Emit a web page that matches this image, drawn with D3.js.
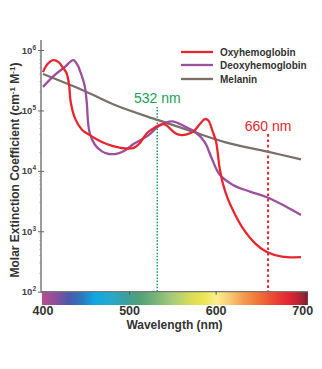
<!DOCTYPE html>
<html>
<head>
<meta charset="utf-8">
<script src="https://cdn.jsdelivr.net/npm/d3@7"></script>
<style>
  body { margin: 0; background: #fff; }
  svg text { font-family: "Liberation Sans", Arial, sans-serif; }
</style>
</head>
<body>
<svg class="chart"></svg>
<script>
// spectra (wavelength nm, molar extinction cm-1 M-1)
var oxyNm  = [400,405,412,418,423,427,430,432,437,445,454,468,480,495,505,512,520,527,533,537,542,548,554,560,566,574,581,587,591,596,600,604,608,614,621,630,645,658,676,698];
var oxyVal = [4.3e5,5.8e5,6.8e5,6.3e5,5.1e5,4.2e5,2.75e5,1.38e5,7.4e4,4.8e4,3.9e4,3.0e4,2.6e4,2.35e4,2.4e4,2.9e4,4.2e4,5.0e4,5.6e4,5.9e4,5.75e4,4.8e4,4.1e4,3.9e4,4.0e4,4.5e4,5.9e4,7.2e4,6.8e4,4.5e4,3.0e4,1.12e4,6.0e3,3.3e3,2.0e3,1170,630,457,380,372];

var deoxyNm  = [400,414,425,435,440,443,448,450.5,452,454,460,468,476,487,495,505,522,533,549,564,576,587,595,604,620,640,658,680,698];
var deoxyVal = [2.45e5,3.9e5,5.2e5,6.8e5,5.6e5,4.4e5,2.6e5,1.38e5,6.5e4,4.2e4,2.7e4,2.1e4,1.9e4,1.95e4,2.2e4,2.8e4,3.9e4,5.4e4,6.6e4,5.4e4,4.4e4,2.95e4,1.6e4,8.7e3,5.8e3,4.5e3,3.7e3,2.6e3,1.86e3];

var melNm  = [400,448,483,533,572,610,658,698];
var melVal = [4.0e5,2.1e5,1.23e5,6.9e4,4.5e4,3.0e4,2.1e4,1.55e4];

var seriesNames  = ['Oxyhemoglobin', 'Deoxyhemoglobin', 'Melanin'];
var seriesColors = ['#e8262d', '#9b4f9e', '#7b6f69'];

var xTicks = [400, 500, 600, 700];
var yTicks = [1e2, 1e3, 1e4, 1e5, 1e6];

// colour bar under the axis
var spectrumNm  = [400,415,430,445,460,480,495,510,530,550,570,585,600,615,630,650,670,685,700,706];
var spectrumCol = ['#b5508e','#8a4f9c','#4a5aa8','#2a78c0','#10a8e2','#2aa8c8','#3aa0a0','#4fa07a','#78b478','#a8cc7a','#d8dc58','#ece452','#faf08c','#f9cc78','#f5a050','#ef7038','#ea4032','#e12433','#a02432','#6e2030'];

var markers = [
  {nm: 532, label: '532 nm', color: '#1a9e5a', top: 107, ly: 103, dash: '1.5,1.6', w: 1.5},
  {nm: 660, label: '660 nm', color: '#e8262d', top: 134, ly: 131, dash: '2.7,2.7', w: 2}
];

var W = 322, H = 369;

var svg = d3.select('.chart')
  .attr('width', W)
  .attr('height', H);

var x = d3.scaleLinear().domain([400, 700]).range([43, 302.7]),
    y = d3.scaleLog().domain([1e2, 1e6]).range([291.7, 50]);

var axisX = 41;

// colour bar gradient
var grad = svg.append('defs').append('linearGradient')
  .attr('id', 'spec')
  .attr('gradientUnits', 'userSpaceOnUse')
  .attr('x1', x(400)).attr('x2', x(706))
  .attr('y1', 0).attr('y2', 0);
spectrumNm.forEach(function(nm, i) {
  grad.append('stop')
    .attr('offset', (nm - 400) / 306)
    .attr('stop-color', spectrumCol[i]);
});

svg.append('rect')
  .attr('x', x(400) - 1)
  .attr('y', y(1e2))
  .attr('width', x(706) - x(400) + 1)
  .attr('height', 13.3)
  .attr('fill', 'url(#spec)');

// x axis line on top of the bar
svg.append('line')
  .attr('x1', axisX).attr('x2', x(706))
  .attr('y1', y(1e2)).attr('y2', y(1e2))
  .attr('stroke', '#777').attr('stroke-width', 1.3);

// small ticks into the bar
svg.selectAll('.xtick')
  .data(xTicks.slice(1))
  .enter().append('line')
  .attr('x1', function(d) { return x(d); })
  .attr('x2', function(d) { return x(d); })
  .attr('y1', y(1e2)).attr('y2', y(1e2) + 3)
  .attr('stroke', '#555').attr('stroke-width', 1);

svg.selectAll('.xlab')
  .data(xTicks)
  .enter().append('text')
  .attr('x', function(d) { return x(d); })
  .attr('y', 314.5)
  .attr('text-anchor', 'middle')
  .attr('font-size', 12.5)
  .attr('font-weight', 'bold')
  .attr('fill', '#333')
  .text(function(d) { return d; });

svg.append('text')
  .attr('x', 174.5)
  .attr('y', 328.5)
  .attr('text-anchor', 'middle')
  .attr('font-size', 12)
  .attr('font-weight', 'bold')
  .attr('fill', '#333')
  .text('Wavelength (nm)');

// y axis
var yAxis = d3.axisLeft(y).tickValues(yTicks).tickSize(3).tickPadding(2);
var gy = svg.append('g')
  .attr('transform', 'translate(' + axisX + ',0)')
  .call(yAxis);
gy.select('.domain').remove();
gy.selectAll('.tick line').attr('stroke', '#666').attr('x2', -3).attr('x1', 3);
gy.selectAll('.tick text').each(function(d) {
  var t = d3.select(this).text(null)
    .attr('font-size', 9.5)
    .attr('font-weight', 'bold')
    .attr('fill', '#444')
    .attr('font-family', '"Liberation Sans", Arial, sans-serif');
  t.append('tspan').text('10');
  t.append('tspan').attr('dy', -4).attr('font-size', 6.5).text(Math.round(Math.log10(d)));
});

svg.append('line')
  .attr('x1', axisX).attr('x2', axisX)
  .attr('y1', 40).attr('y2', y(1e2))
  .attr('stroke', '#666').attr('stroke-width', 1.3);

// minor log ticks
var minor = y.ticks().filter(function(d) { return yTicks.indexOf(d) < 0; });
svg.selectAll('.minor')
  .data(minor)
  .enter().append('line')
  .attr('x1', axisX - 1.5).attr('x2', axisX)
  .attr('y1', function(d) { return y(d); })
  .attr('y2', function(d) { return y(d); })
  .attr('stroke', '#888').attr('stroke-width', 0.8);

// y title
var yt = svg.append('text')
  .attr('transform', 'translate(19,170) rotate(-90)')
  .attr('text-anchor', 'middle')
  .attr('font-size', 12)
  .attr('font-weight', 'bold')
  .attr('fill', '#333');
yt.append('tspan').text('Molar Extinction Coefficient (cm');
yt.append('tspan').attr('dy', -4).attr('font-size', 8).text('-1');
yt.append('tspan').attr('dy', 4).text(' M');
yt.append('tspan').attr('dy', -4).attr('font-size', 8).text('-1');
yt.append('tspan').attr('dy', 4).text(')');

// marker lines
markers.forEach(function(m) {
  svg.append('line')
    .attr('x1', x(m.nm)).attr('x2', x(m.nm))
    .attr('y1', m.top).attr('y2', y(1e2))
    .attr('stroke', m.color)
    .attr('stroke-width', m.w)
    .attr('stroke-dasharray', m.dash);
  svg.append('text')
    .attr('x', x(m.nm))
    .attr('y', m.ly)
    .attr('text-anchor', 'middle')
    .attr('font-size', 14)
    .attr('fill', m.color)
    .text(m.label);
});

// curves
var line = d3.line()
  .x(function(d) { return x(d[0]); })
  .y(function(d) { return y(d[1]); })
  .curve(d3.curveCatmullRom.alpha(0.5));

var series = [
  d3.zip(oxyNm, oxyVal),
  d3.zip(deoxyNm, deoxyVal),
  d3.zip(melNm, melVal)
];

// draw melanin first, then deoxy, then oxy on top
[2, 1, 0].forEach(function(i) {
  svg.append('path')
    .datum(series[i])
    .attr('fill', 'none')
    .attr('stroke', seriesColors[i])
    .attr('stroke-width', 2.3)
    .attr('d', line);
});

// legend
var legY = [52, 65, 79];
var leg = svg.selectAll('.leg')
  .data(seriesNames)
  .enter().append('g')
  .attr('transform', function(d, i) { return 'translate(181,' + legY[i] + ')'; });
leg.append('line')
  .attr('x1', 0).attr('x2', 32)
  .attr('stroke', function(d, i) { return seriesColors[i]; })
  .attr('stroke-width', 2.3);
leg.append('text')
  .attr('x', 39)
  .attr('dy', '0.35em')
  .attr('font-size', 10)
  .attr('font-weight', 'bold')
  .attr('fill', '#333')
  .text(function(d) { return d; });
</script>
</body>
</html>
